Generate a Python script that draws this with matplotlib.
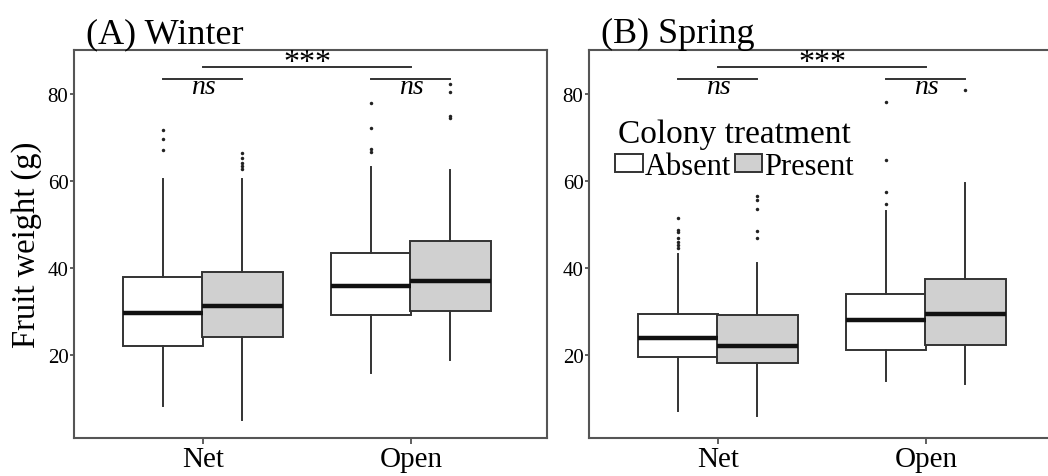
import matplotlib
matplotlib.use("Agg")
import matplotlib.pyplot as plt
from matplotlib.patches import Patch

plt.rcParams['font.family'] = ['Liberation Serif', 'DejaVu Serif']

sites = ['Net', 'Open']
treatments = ['Absent', 'Present']
fills = {'Absent': 'white', 'Present': '#d0d0d0'}

# box summaries: (whisker low, q1, median, q3, whisker high) per site, per treatment
winter = {
    ('Net', 'Absent'): (8.2, 22.1, 29.7, 37.9, 60.5),
    ('Net', 'Present'): (5.1, 24.1, 31.2, 39.0, 60.5),
    ('Open', 'Absent'): (15.8, 29.2, 35.8, 43.5, 63.3),
    ('Open', 'Present'): (18.9, 30.1, 36.9, 46.1, 62.4),
}
winter_out = {
    ('Net', 'Absent'): [71.8, 69.7, 67.0],
    ('Net', 'Present'): [66.4, 65.2, 64.1, 63.5, 62.8],
    ('Open', 'Absent'): [77.9, 72.2, 67.4, 66.6],
    ('Open', 'Present'): [82.3, 80.4, 75.0, 74.4],
}
spring = {
    ('Net', 'Absent'): (7.0, 19.5, 23.8, 29.4, 43.2),
    ('Net', 'Present'): (5.9, 18.1, 22.1, 29.2, 41.1),
    ('Open', 'Absent'): (13.9, 21.2, 28.0, 34.0, 53.0),
    ('Open', 'Present'): (13.3, 22.2, 29.4, 37.5, 59.5),
}
spring_out = {
    ('Net', 'Absent'): [51.5, 48.7, 48.2, 46.8, 45.9, 45.3, 44.6],
    ('Net', 'Present'): [56.6, 55.6, 53.6, 48.6, 46.8],
    ('Open', 'Absent'): [78.1, 64.75, 57.4, 54.6],
    ('Open', 'Present'): [80.8],
}

dodge = 0.19
bw = 0.385
edge = '#333333'

fig = plt.figure(figsize=(10.48, 4.77), dpi=100)
axA = fig.add_axes([74 / 1048, 38 / 477, 473 / 1048, 388 / 477])
axB = fig.add_axes([589 / 1048, 38 / 477, 473 / 1048, 388 / 477])


def draw_panel(ax, summ, outl, title):
    for i, site in enumerate(sites):
        for j, tr in enumerate(treatments):
            lo, q1, med, q3, hi = summ[(site, tr)]
            pos = i + 1 + (j - 0.5) * 2 * dodge
            st = dict(whislo=lo, q1=q1, med=med, q3=q3, whishi=hi,
                      fliers=outl[(site, tr)])
            ax.bxp([st], positions=[pos], widths=bw, patch_artist=True,
                   showcaps=False,
                   boxprops=dict(facecolor=fills[tr], edgecolor=edge, linewidth=1.4),
                   medianprops=dict(color='#111111', linewidth=3.2, solid_capstyle='butt'),
                   whiskerprops=dict(color=edge, linewidth=1.4),
                   flierprops=dict(marker='o', markersize=2.5, markerfacecolor='#222222',
                                   markeredgecolor='none'))
    ax.set_xlim(0.38, 2.654)
    ax.set_ylim(0.9, 90.1)
    ax.set_xticks([1, 2])
    ax.set_xticklabels(sites, fontsize=21)
    ax.set_yticks([20, 40, 60, 80])
    ax.tick_params(axis='y', labelsize=15, length=3, width=1.2, pad=1, color='#444444')
    ax.tick_params(axis='x', length=4, width=1.2, pad=2, color='#444444')
    for sp in ax.spines.values():
        sp.set_color('#555555')
        sp.set_linewidth(1.5)

    # significance bars
    ax.plot([1, 2], [86.3, 86.3], color='#333333', linewidth=1.4)
    ax.text(1.5, 85.6, '***', ha='center', va='baseline', fontsize=23)
    for c in (1, 2):
        ax.plot([c - dodge, c + dodge], [83.4, 83.4], color='#333333', linewidth=1.4)
        ax.text(c, 81.6, 'ns', ha='center', va='center', fontsize=20, style='italic')

    ax.text(0.025, 1.0, title, transform=ax.transAxes, ha='left', va='bottom',
            fontsize=26)


draw_panel(axA, winter, winter_out, '(A) Winter')
draw_panel(axB, spring, spring_out, '(B) Spring')
axA.set_ylabel('Fruit weight (g)', fontsize=23.5, labelpad=4)

handles = [Patch(facecolor=fills[t], edgecolor=edge, linewidth=1.4) for t in treatments]
leg = axB.legend(handles, treatments, title='Colony treatment', ncol=2,
                 loc='upper left', bbox_to_anchor=(600 / 1048, 1 - 104 / 477),
                 bbox_transform=fig.transFigure, frameon=False, fontsize=22,
                 title_fontsize=24, handlelength=0.9, handleheight=0.5,
                 handletextpad=0.08, columnspacing=0.1, borderpad=0, labelspacing=0.1)

fig.savefig('out.png', dpi=100)
